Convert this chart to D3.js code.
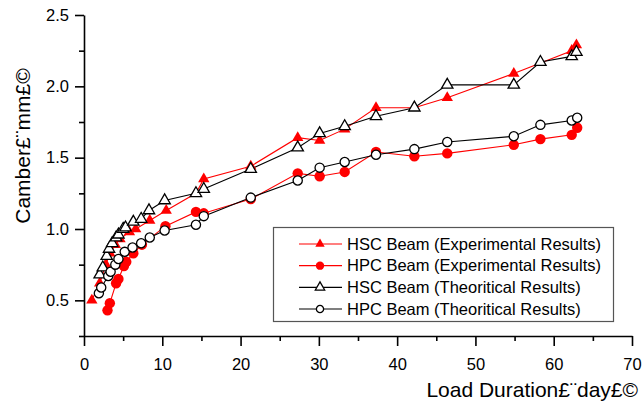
<!DOCTYPE html>
<html>
<head>
<meta charset="utf-8">
<script src="https://cdn.jsdelivr.net/npm/d3@7"></script>
<style>
  body { margin: 0; background: #fff; }
  svg { display: block; }
</style>
</head>
<body>
<div id="chart"></div>
<script>
'use strict'

// [day, camber mm]
const hscExp = [[1.0,0.50],[2.0,0.62],[2.8,0.75],[3.3,0.83],[4.0,0.89],[4.6,0.93],[5.8,0.98],[6.6,1.00],[8.4,1.06],[10.5,1.13],[14.3,1.25],[15.3,1.35],[21.3,1.44],[27.3,1.64],[30.1,1.62],[33.3,1.70],[37.3,1.85],[42.2,1.85],[46.4,1.92],[54.9,2.09],[62.3,2.25],[62.9,2.29]]
const hpcExp = [[3.0,0.43],[3.3,0.48],[4.1,0.62],[4.4,0.65],[5.1,0.74],[5.4,0.77],[6.3,0.83],[7.4,0.89],[10.4,1.02],[14.3,1.12],[15.3,1.11],[21.3,1.21],[27.3,1.39],[30.1,1.37],[33.3,1.40],[37.3,1.54],[42.2,1.51],[46.4,1.53],[54.9,1.59],[58.3,1.63],[62.3,1.66],[63.0,1.71]]
const hscTheo = [[2.0,0.68],[2.4,0.73],[2.9,0.81],[3.2,0.86],[3.6,0.90],[4.1,0.94],[4.4,0.96],[5.0,1.00],[5.3,1.01],[6.3,1.05],[7.3,1.07],[8.3,1.13],[10.3,1.20],[14.3,1.25],[15.3,1.28],[21.3,1.42],[27.3,1.57],[30.1,1.67],[33.3,1.72],[37.3,1.79],[42.2,1.85],[46.4,2.01],[54.9,2.01],[58.3,2.17],[62.3,2.21],[62.9,2.24]]
const hpcTheo = [[1.9,0.55],[2.2,0.59],[3.1,0.67],[3.4,0.70],[4.0,0.75],[4.4,0.79],[5.2,0.84],[6.2,0.87],[7.3,0.90],[8.4,0.94],[10.3,0.99],[14.3,1.03],[15.3,1.09],[21.3,1.22],[27.3,1.34],[30.1,1.43],[33.3,1.47],[37.3,1.52],[42.2,1.56],[46.4,1.61],[54.9,1.65],[58.3,1.73],[62.3,1.76],[63.0,1.78]]

const seriesNames = ['HSC Beam (Experimental Results)', 'HPC Beam (Experimental Results)', 'HSC Beam (Theoritical Results)', 'HPC Beam (Theoritical Results)']
const xTicks = [0, 10, 20, 30, 40, 50, 60, 70]
const xMinor = [5, 15, 25, 35, 45, 55, 65]
const yTicks = [0.5, 1.0, 1.5, 2.0, 2.5]
const yMinor = [0.25, 0.75, 1.25, 1.75, 2.25]

const svgWidth = 644, svgHeight = 402
const font = 'Liberation Sans, Arial, sans-serif'

const series = [
    {name: seriesNames[0], data: hscExp, color: 'red', shape: 'tri', filled: true},
    {name: seriesNames[1], data: hpcExp, color: 'red', shape: 'circle', filled: true},
    {name: seriesNames[2], data: hscTheo, color: 'black', shape: 'tri', filled: false},
    {name: seriesNames[3], data: hpcTheo, color: 'black', shape: 'circle', filled: false}
]

const svg = d3.select('#chart')
    .append('svg')
    .attr('width', svgWidth)
    .attr('height', svgHeight)
    .attr('font-family', font)

const x = d3.scaleLinear().domain([0, 70]).range([84, 632])
const y = d3.scaleLinear().domain([0.25, 2.5]).range([336, 15])

// axes
const xAxis = svg.append('g')
    .attr('transform', `translate(0,${y(0.25)})`)
    .call(d3.axisBottom(x).tickValues(xTicks).tickSize(10).tickPadding(12).tickSizeOuter(0).tickFormat(d3.format('d')))
xAxis.append('g')
    .call(d3.axisBottom(x).tickValues(xMinor).tickSize(5).tickFormat('').tickSizeOuter(0))
    .select('.domain').remove()

const yAxis = svg.append('g')
    .attr('transform', `translate(${x(0)},0)`)
    .call(d3.axisLeft(y).tickValues(yTicks).tickSize(9).tickPadding(6).tickSizeOuter(0).tickFormat(d3.format('.1f')))
yAxis.append('g')
    .call(d3.axisLeft(y).tickValues(yMinor).tickSize(5).tickFormat('').tickSizeOuter(0))
    .select('.domain').remove()

svg.selectAll('.domain, .tick line')
    .attr('stroke', '#000')
    .attr('stroke-width', 1.6)
svg.selectAll('.tick text')
    .attr('font-family', font)
    .attr('font-size', 16.5)
    .attr('fill', '#000')

// axis titles
svg.append('text')
    .attr('x', 638)
    .attr('y', 397)
    .attr('text-anchor', 'end')
    .attr('font-size', 21)
    .text('Load Duration£¨day£©')

svg.append('text')
    .attr('transform', 'translate(30,146) rotate(-90)')
    .attr('text-anchor', 'middle')
    .attr('font-size', 21)
    .text('Camber£¨mm£©')

// lines
const line = d3.line().x(d => x(d[0])).y(d => y(d[1]))

svg.append('g')
    .attr('fill', 'none')
    .attr('stroke-width', 1.1)
  .selectAll('path')
    .data(series)
    .join('path')
    .attr('stroke', d => d.color)
    .attr('d', d => line(d.data))

function marker(g, s, big) {
    if (s.shape == 'tri') {
        g.append('path')
            .attr('d', d3.symbol(d3.symbolTriangle, big ? 56 : 38)())
            .attr('fill', s.filled ? s.color : '#fff')
            .attr('stroke', s.filled ? 'none' : s.color)
            .attr('stroke-width', 1.3)
    } else {
        g.append('circle')
            .attr('r', s.filled ? (big ? 5.2 : 4.2) : (big ? 4.6 : 3.6))
            .attr('fill', s.filled ? s.color : '#fff')
            .attr('stroke', s.filled ? 'none' : s.color)
            .attr('stroke-width', 1.3)
    }
}

series.forEach(s => {
    svg.append('g')
      .selectAll('g')
        .data(s.data)
        .join('g')
        .attr('transform', d => `translate(${x(d[0])},${y(d[1])})`)
        .each(function () { marker(d3.select(this), s, true) })
})

// legend
const legend = svg.append('g')

legend.append('rect')
    .attr('x', 273.5)
    .attr('y', 227.5)
    .attr('width', 340)
    .attr('height', 94)
    .attr('fill', '#fff')
    .attr('stroke', '#555')
    .attr('stroke-width', 1.2)

const rowY = d3.scalePoint().domain(seriesNames).range([244, 309])

const item = legend.selectAll('.item')
    .data(series)
    .join('g')
    .attr('class', 'item')
    .attr('transform', d => `translate(0,${rowY(d.name)})`)

item.append('line')
    .attr('x1', 299)
    .attr('x2', 342)
    .attr('stroke', d => d.color)
    .attr('stroke-width', 1.1)

item.append('g')
    .attr('transform', 'translate(320,0)')
    .each(function (d) { marker(d3.select(this), d, false) })

item.append('text')
    .attr('x', 347)
    .attr('dy', '0.35em')
    .attr('font-size', 16.5)
    .text(d => d.name)
</script>
</body>
</html>
